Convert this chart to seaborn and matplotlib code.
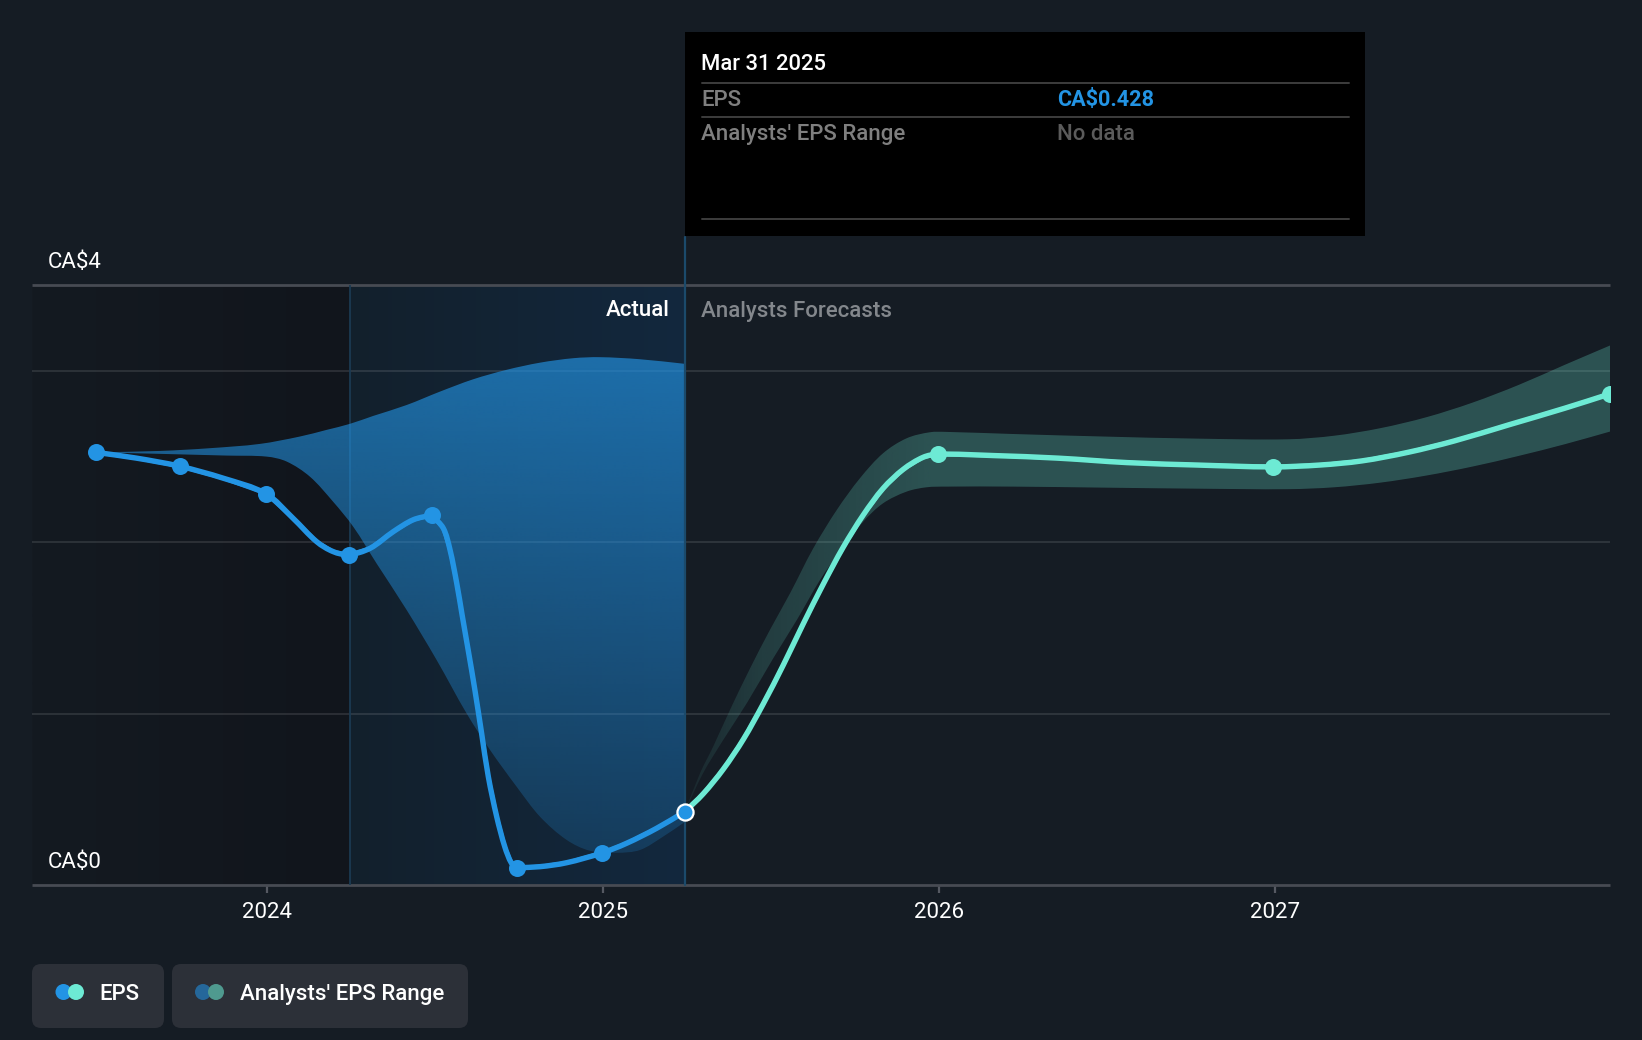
import numpy as np
import pandas as pd
import matplotlib
matplotlib.use("Agg")
import matplotlib.pyplot as plt
from matplotlib.colors import to_rgb
from matplotlib.patches import FancyBboxPatch, Circle, PathPatch
from matplotlib.path import Path
import seaborn as sns

# ---------- data ----------
eps_marker_x = [2023.490, 2023.740, 2023.997, 2024.243, 2024.490, 2024.745, 2024.997]
eps_marker_y = [2.524, 2.443, 2.283, 1.927, 2.158, 0.101, 0.187]
latest_x = [2025.244]
latest_y = [0.428]
zone_start = 2024.247
forecast_marker_x = [2025.997, 2026.993, 2027.997]
forecast_marker_y = [2.513, 2.439, 2.865]

eps_x = [2023.490, 2023.612, 2023.740, 2023.870, 2023.997, 2024.078, 2024.148, 2024.197, 2024.243,
         2024.307, 2024.376, 2024.435, 2024.490, 2024.525, 2024.545, 2024.565, 2024.581, 2024.599,
         2024.619, 2024.639, 2024.659, 2024.684, 2024.708, 2024.728, 2024.745, 2024.813, 2024.892,
         2024.997, 2025.070, 2025.160, 2025.244]
eps_y = [2.524, 2.490, 2.443, 2.373, 2.283, 2.139, 2.003, 1.945, 1.927,
         1.964, 2.061, 2.130, 2.158, 2.081, 1.955, 1.760, 1.575, 1.371,
         1.138, 0.885, 0.632, 0.398, 0.223, 0.127, 0.101, 0.107, 0.130,
         0.187, 0.243, 0.331, 0.428]

forecast_x = [2025.244, 2025.298, 2025.358, 2025.418, 2025.477, 2025.537, 2025.596, 2025.656,
              2025.715, 2025.775, 2025.834, 2025.894, 2025.953, 2025.997, 2026.163, 2026.354,
              2026.560, 2026.765, 2026.993, 2027.135, 2027.259, 2027.396, 2027.533, 2027.697,
              2027.862, 2027.997]
forecast_y = [0.428, 0.531, 0.675, 0.850, 1.056, 1.284, 1.523, 1.756,
              1.970, 2.159, 2.314, 2.425, 2.495, 2.513, 2.505, 2.490,
              2.464, 2.450, 2.439, 2.450, 2.474, 2.524, 2.590, 2.685,
              2.781, 2.865]

range_up_x = [2023.490, 2023.682, 2023.830, 2023.979, 2024.098, 2024.178, 2024.247, 2024.316, 2024.416,
              2024.515, 2024.614, 2024.713, 2024.813, 2024.912, 2024.991, 2025.110, 2025.244]
range_up_y = [2.524, 2.532, 2.548, 2.573, 2.616, 2.655, 2.690, 2.736, 2.800,
              2.878, 2.950, 3.005, 3.047, 3.073, 3.079, 3.067, 3.040]
range_lo_x = [2023.490, 2023.682, 2023.880, 2023.999, 2024.059, 2024.128, 2024.197, 2024.257, 2024.326,
              2024.416, 2024.505, 2024.594, 2024.664, 2024.743, 2024.813, 2024.892, 2024.961, 2025.041,
              2025.110, 2025.179, 2025.244]
range_lo_y = [2.524, 2.515, 2.505, 2.499, 2.470, 2.382, 2.236, 2.090, 1.877,
              1.604, 1.313, 1.002, 0.788, 0.574, 0.398, 0.263, 0.200, 0.188,
              0.204, 0.282, 0.368]

f_up_x = [2025.244, 2025.289, 2025.328, 2025.378, 2025.438, 2025.497, 2025.557, 2025.626, 2025.696,
          2025.765, 2025.834, 2025.904, 2025.973, 2026.023, 2026.217, 2026.491, 2026.765, 2027.039,
          2027.177, 2027.314, 2027.451, 2027.588, 2027.725, 2027.862, 2027.997]
f_up_y = [0.428, 0.652, 0.807, 1.021, 1.264, 1.488, 1.702, 1.964, 2.188,
          2.373, 2.519, 2.606, 2.641, 2.643, 2.631, 2.616, 2.604, 2.600,
          2.621, 2.665, 2.729, 2.814, 2.917, 3.034, 3.147]
f_lo_x = [2025.244, 2025.298, 2025.358, 2025.428, 2025.507, 2025.577, 2025.646, 2025.705, 2025.775,
          2025.834, 2025.904, 2025.963, 2026.023, 2026.217, 2026.491, 2026.765, 2027.039, 2027.176,
          2027.313, 2027.449, 2027.588, 2027.725, 2027.862, 2027.997]
f_lo_y = [0.428, 0.652, 0.846, 1.060, 1.323, 1.546, 1.779, 1.945, 2.120,
          2.227, 2.295, 2.320, 2.324, 2.324, 2.318, 2.312, 2.309, 2.320,
          2.347, 2.388, 2.441, 2.503, 2.571, 2.645]

year_ticks = [2024, 2025, 2026, 2027]
year_labels = ["2024", "2025", "2026", "2027"]
grid_values = [1, 2, 3]
axis_top = 3.5
tip_rows = ["Mar 31 2025", "EPS", "CA$0.428", "Analysts' EPS Range", "No data"]
legend_names = ["EPS", "Analysts' EPS Range"]

# ---------- style ----------
BG = "#151c24"
BLUE = "#2394e4"
TEAL = "#6deAD4"
sns.set_theme(style="dark", rc={"axes.facecolor": BG, "figure.facecolor": BG})
plt.rcParams["font.family"] = ["Roboto", "DejaVu Sans"]
FS = 16

W, H = 1642, 1040
fig = plt.figure(figsize=(W / 100, H / 100), dpi=100, facecolor=BG)
ax = fig.add_axes([32 / W, (H - 885) / H, 1578 / W, 600 / H])
X0, X1 = 2023.301, 2027.997
ax.set_xlim(X0, X1)
ax.set_ylim(0, axis_top)
SX, SY = 1578 / (X1 - X0), 600 / axis_top


def bezier_through(xs, ys, corners=()):
    """Bezier segments running through the read points; the points themselves are the only data."""
    p = np.c_[xs, ys]
    scale = np.array([SX, SY])
    n = len(p)
    seg = np.linalg.norm(np.diff(p * scale, axis=0), axis=1)
    tang = np.zeros_like(p)
    for i in range(n):
        if i == 0 or i == n - 1 or i in corners:
            continue
        tang[i] = (p[i + 1] - p[i - 1]) / (seg[i - 1] + seg[i])
    tang[0] = (p[1] - p[0]) / seg[0]
    tang[-1] = (p[-1] - p[-2]) / seg[-1]
    verts, codes = [], []
    for i in range(n - 1):
        t0 = tang[i]
        t1 = tang[i + 1]
        if i in corners:
            t0 = (p[i + 1] - p[i]) / seg[i]
        if i + 1 in corners:
            t1 = (p[i + 1] - p[i]) / seg[i]
        verts += [p[i] + t0 * seg[i] / 3, p[i + 1] - t1 * seg[i] / 3, p[i + 1]]
        codes += [Path.CURVE4] * 3
    return p[0], verts, codes


def curve_path(xs, ys, corners=()):
    start, v, c = bezier_through(xs, ys, corners)
    return Path([start] + v, [Path.MOVETO] + c)


def band_path(ux, uy, lx, ly):
    s0, v0, c0 = bezier_through(ux, uy)
    s1, v1, c1 = bezier_through(lx[::-1], ly[::-1])
    verts = [s0] + v0 + [s1] + v1 + [s0]
    codes = [Path.MOVETO] + c0 + [Path.LINETO] + c1 + [Path.CLOSEPOLY]
    return Path(verts, codes)


def hgrad(x0, x1, c0, c1, z):
    t = np.linspace(0, 1, 256)[None, :, None]
    rgb = np.array(to_rgb(c0))[None, None, :] * (1 - t) + np.array(to_rgb(c1))[None, None, :] * t
    ax.imshow(rgb, extent=[x0, x1, 0, axis_top], aspect="auto", zorder=z, interpolation="bilinear")


def gradient_band(path, rgb, alpha, vertical, z):
    img = np.zeros((256, 1, 4) if vertical else (1, 256, 4))
    img[..., :3] = to_rgb(rgb)
    img[..., 3] = alpha[:, None] if vertical else alpha[None, :]
    patch = PathPatch(path, transform=ax.transData, fc="none", ec="none")
    ax.add_patch(patch)
    box = path.get_extents()
    im = ax.imshow(img, extent=[box.x0, box.x1, box.y0, box.y1], origin="upper" if vertical else "lower",
                   aspect="auto", zorder=z, interpolation="bilinear")
    im.set_clip_path(patch)


# shaded zones
hgrad(X0, zone_start, "#141a21", "#11151c", 0)
hgrad(zone_start, latest_x[0], "#12202c", "#13283e", 0)

# grid and axis lines
for g in grid_values:
    ax.axhline(g, color="#ffffff", alpha=0.11, lw=1.4, zorder=1)
ax.axhline(axis_top, color="#474b53", lw=2.0, zorder=1, clip_on=False, solid_capstyle="butt")
ax.axhline(0, color="#474b53", lw=2.0, zorder=1, clip_on=False, solid_capstyle="butt")

# boundaries of the actual zone
ax.axvline(zone_start, color="#1b3a52", lw=1.3, zorder=1.5)
ax.axvline(latest_x[0], 0, 1.08, color="#1b4a6b", lw=1.6, zorder=2.5, clip_on=False)

# analysts' range bands
t = np.linspace(0, 1, 256)
gradient_band(band_path(range_up_x, range_up_y, range_lo_x, range_lo_y), BLUE, 0.66 + (0.2 - 0.66) * t, True, 2)
gradient_band(band_path(f_up_x, f_up_y, f_lo_x, f_lo_y), TEAL, np.interp(t, [0, 0.08, 0.27, 1], [0.06, 0.16, 0.27, 0.27]), False, 2)

# EPS lines and points
actual = pd.DataFrame({"x": eps_x, "y": eps_y})
forecast = pd.DataFrame({"x": forecast_x, "y": forecast_y})
kw = dict(lw=2.8, zorder=3.9, legend=False, errorbar=None, sort=False, estimator=None)
sns.lineplot(data=forecast, x="x", y="y", color=TEAL, ax=ax, **kw)
sns.lineplot(data=actual, x="x", y="y", color=BLUE, ax=ax, **kw)
for xs, ys, c, corners in ((forecast_x, forecast_y, TEAL, ()), (eps_x, eps_y, BLUE, (12, 24))):
    ax.add_patch(PathPatch(curve_path(xs, ys, corners), fc="none", ec=c, lw=3.9, zorder=4,
                           capstyle="round", joinstyle="round"))
sns.scatterplot(x=eps_marker_x, y=eps_marker_y, color=BLUE, s=150, linewidth=0, zorder=5, ax=ax, legend=False)
sns.scatterplot(x=forecast_marker_x, y=forecast_marker_y, color=TEAL, s=150, linewidth=0, zorder=5, ax=ax, legend=False)
sns.scatterplot(x=latest_x, y=latest_y, color=BLUE, s=135, edgecolor="white", linewidth=1.6, zorder=6, ax=ax,
                legend=False, clip_on=False)

# axes
ax.set_xlim(X0, X1)
ax.set_ylim(0, axis_top)
ax.set_xlabel("")
ax.set_ylabel("")
ax.grid(False)
for s in ax.spines.values():
    s.set_visible(False)
ax.set_yticks([])
ax.set_xticks(year_ticks, year_labels, fontsize=FS, color="white")
ax.tick_params(axis="x", length=6, width=1.6, color="#555962", pad=6, bottom=True)

# overlay drawn in pixels of the figure
ov = fig.add_axes([0, 0, 1, 1], zorder=10)
ov.set_xlim(0, W)
ov.set_ylim(H, 0)
ov.axis("off")
ov.patch.set_alpha(0)


def label(x, y, s, color="white", ha="left", weight=400, size=FS):
    ov.text(x, y, s, color=color, ha=ha, va="center_baseline", fontsize=size, fontweight=weight)


label(48, 260.5, "CA$4")
label(48, 860.5, "CA$0")
label(669.5, 307.5, "Actual", ha="right", weight=500)
label(701, 308.5, "Analysts Forecasts", color="#83878c", weight=500)

# tooltip
ov.add_patch(plt.Rectangle((685, 32), 680, 204, fc="black", ec="none"))
for yy in (82.7, 116.7, 218.7):
    ov.plot([701.5, 1348.5], [yy, yy], color="#3d3d3d", lw=1.4)
label(701, 61.5, tip_rows[0], weight=500, size=15.8)
label(701, 98, tip_rows[1], color="#7f7f7f", weight=500)
label(1057, 98, tip_rows[2], color=BLUE, weight=700, size=15.6)
label(701, 132, tip_rows[3], color="#7f7f7f", weight=500)
label(1057, 132, tip_rows[4], color="#5b5b5b", weight=500)

# legend pills
for x0, x1 in ((32, 164), (172, 468)):
    ov.add_patch(FancyBboxPatch((x0 + 9, 973), x1 - x0 - 18, 46, boxstyle="round,pad=9,rounding_size=9",
                                fc="#2c3038", ec="none", mutation_aspect=1))
for cx, c in ((63.5, BLUE), (76, TEAL), (203, "#25679a"), (216, "#4f9a8f")):
    ov.add_patch(Circle((cx, 992), 8, fc=c, ec="none"))
label(99.5, 992, legend_names[0], weight=500)
label(240, 992, legend_names[1], weight=500)

fig.savefig("out.png", dpi=100, facecolor=BG)
